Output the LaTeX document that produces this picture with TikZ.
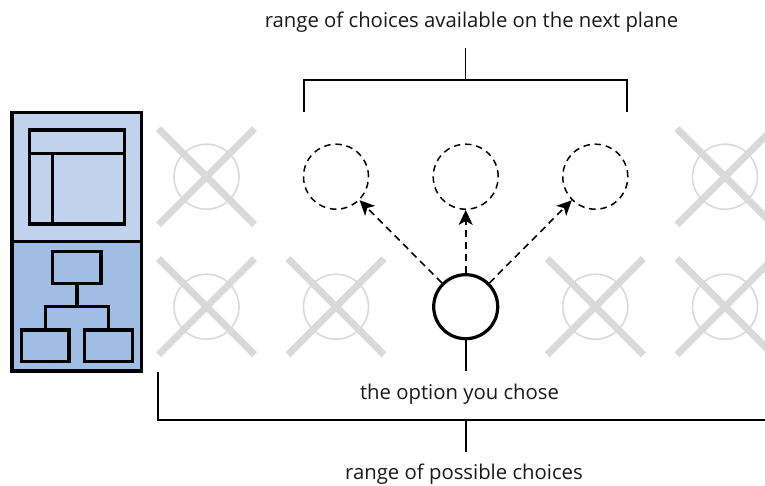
\documentclass[tikz,border=0pt]{standalone}
\usepackage{fontspec}
\setmainfont{Open Sans}
\usetikzlibrary{arrows.meta}
\definecolor{planeA}{RGB}{193,211,236}
\definecolor{planeB}{RGB}{160,189,228}
\tikzset{
  lbl/.style={inner sep=0pt,anchor=base,font=\fontsize{20.3}{24}\selectfont,text=black!90},
  opt/.style={circle,draw=black,line width=1.5pt,dash pattern=on 6.5pt off 4.8pt,minimum size=65pt,inner sep=0pt},
  chosen/.style={circle,draw=black,line width=3.2pt,fill=white,minimum size=64pt,inner sep=0pt},
  off/.style={circle,draw=black!15,line width=1.6pt,minimum size=65pt,inner sep=0pt},
  cross/.style={draw=black!15,line width=7pt},
  go/.style={draw=black,line width=1.6pt,dash pattern=on 7pt off 5pt,-{Stealth[length=15pt,width=14pt,inset=4pt]}},
  solid1/.style={draw=black,line width=1.8pt},
  wire/.style={draw=black,line width=3.3pt,line join=miter},
}
\newcommand{\xoff}[3]{%
  \node[off] (#1) at (#2,#3) {};
  \draw[cross] (#2-48,#3-48) -- (#2+48,#3+48);
  \draw[cross] (#2-48,#3+48) -- (#2+48,#3-48);
}
\begin{document}
\begin{tikzpicture}[x=1pt,y=-1pt]
\useasboundingbox (0,0) rectangle (765,486);
\clip (0,0) rectangle (765,486);
% planes
\fill[planeA] (11,112) rectangle (142,241.7);
\fill[planeB] (11,241.7) rectangle (142,371);
\draw[wire] (12,112.3) rectangle (141.7,371);
\draw[wire] (12,241.7) -- (141.7,241.7);
\draw[wire] (29.3,130) rectangle (124.3,224);
\draw[wire] (29.3,153.3) -- (124.3,153.3);
\draw[wire] (52.7,153.3) -- (52.7,224);
\draw[wire] (52.7,251.7) rectangle (101,283.3);
\draw[wire] (77,283.3) -- (77,306.7);
\draw[wire] (45.3,330) -- (45.3,306.7) -- (108.3,306.7) -- (108.3,330);
\draw[wire] (21.7,330) rectangle (69,361.7);
\draw[wire] (84.3,330) rectangle (132.3,361.7);
% excluded
\xoff{a1}{206.5}{176.7}
\xoff{a5}{725}{176.7}
\xoff{b1}{206.5}{306.7}
\xoff{b2}{336}{306.7}
\xoff{b4}{595.3}{306.7}
\xoff{b5}{725}{306.7}
% options
\node[opt] (o1) at (336,176.7) {};
\node[opt] (o2) at (465.7,176.7) {};
\node[opt] (o3) at (595.3,176.7) {};
\node[chosen] (c) at (465.7,306.7) {};
\draw[go] (c.135) -- (o1.-45);
\draw[go] (c.north) -- (o2.south);
\draw[go] (c.45) -- (o3.-135);
% labels
\node[lbl] (t1) at (471.5,27.7) {range of choices available on the next plane};
\node[lbl] (t2) at (459.5,399) {the option you chose};
\node[lbl] (t3) at (464,479) {range of possible choices};
% brackets
\coordinate (bl) at (303.7,111.7);
\coordinate (br) at (627.3,111.7);
\coordinate (bt) at (465.5,47.7);
\coordinate (bm) at (465.5,80);
\draw[solid1] (bl) -- (303.7,80) -- (627.3,80) -- (br);
\draw[solid1] (bm) -- (bt);
\coordinate (cs) at (465.7,371);
\draw[solid1] (c.south) -- (cs);
\coordinate (el) at (158,371.7);
\coordinate (em) at (465.7,420);
\coordinate (ee) at (465.7,451.7);
\draw[solid1] (el) -- (158,420) -- (765,420);
\draw[solid1] (em) -- (ee);
\end{tikzpicture}
\end{document}
